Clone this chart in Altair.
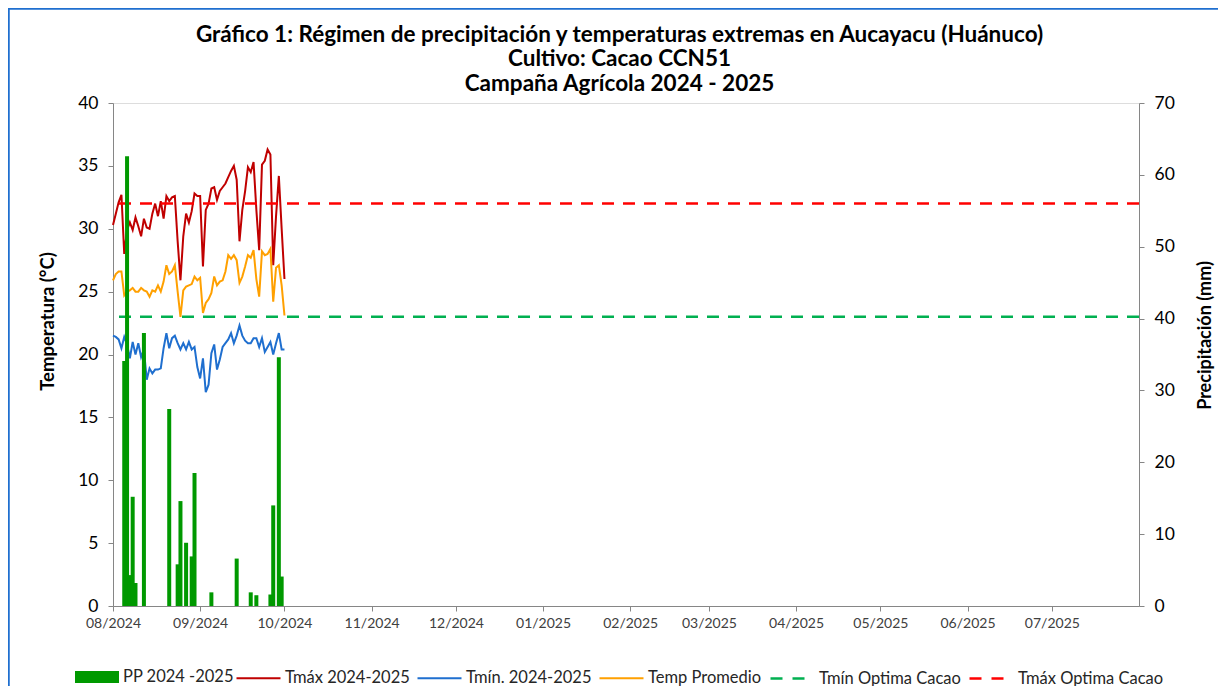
import altair as alt
import pandas as pd

# ---------------- data ----------------
start_date = "2024-08-01"
tmax = [30.3, 31.2, 32.1, 32.7, 28.0, 29.9, 30.5, 29.9, 30.9, 30.2,
        29.4, 30.8, 30.1, 30.0, 31.2, 32.0, 31.0, 32.2, 30.8, 32.6,
        32.2, 32.5, 32.6, 29.0, 25.9, 29.4, 31.2, 30.5, 31.4, 32.8,
        32.6, 32.6, 27.0, 31.5, 32.0, 33.2, 33.3, 32.3, 33.0, 33.3,
        33.6, 34.1, 34.6, 35.0, 33.9, 29.0, 31.5, 33.0, 34.9, 34.5,
        35.3, 31.5, 28.3, 35.1, 35.4, 36.3, 35.9, 27.1, 31.0, 34.2,
        30.0, 26.0]
tmin = [21.5, 21.4, 21.2, 20.5, 21.4, 20.8, 19.7, 21.0, 20.0, 20.9,
        19.8, 20.4, 18.0, 18.9, 18.5, 18.8, 18.8, 18.9, 20.5, 21.7,
        20.5, 21.3, 21.5, 20.9, 20.4, 20.9, 20.4, 21.0, 20.4, 20.6,
        19.0, 18.1, 19.7, 17.0, 17.6, 20.1, 20.8, 18.8, 19.6, 20.6,
        20.9, 21.2, 21.7, 20.9, 21.5, 22.3, 21.5, 21.1, 20.9, 20.9,
        21.3, 21.3, 20.6, 21.3, 20.2, 20.6, 21.0, 20.0, 20.9, 21.7,
        20.4, 20.4]
tavg = [25.9, 26.4, 26.6, 26.6, 24.7, 25.0, 25.1, 25.3, 25.0, 25.0,
        25.3, 25.1, 25.0, 24.6, 25.1, 25.0, 25.5, 25.0, 25.8, 27.1,
        26.4, 26.6, 27.1, 25.0, 23.0, 25.1, 25.4, 25.5, 25.6, 26.2,
        25.9, 26.1, 23.3, 24.1, 24.4, 24.9, 26.2, 25.5, 25.8, 25.9,
        26.6, 27.9, 27.6, 27.9, 27.5, 25.7, 26.2, 27.0, 27.9, 27.7,
        28.3, 26.0, 24.6, 28.2, 27.9, 28.0, 28.4, 24.2, 26.9, 27.1,
        25.5, 23.1]
pp_dates = ["2024-08-05", "2024-08-06", "2024-08-07", "2024-08-08", "2024-08-09",
            "2024-08-12", "2024-08-21", "2024-08-24", "2024-08-25", "2024-08-27",
            "2024-08-29", "2024-08-30", "2024-09-05", "2024-09-14", "2024-09-19",
            "2024-09-21", "2024-09-26", "2024-09-27", "2024-09-29", "2024-09-30"]
pp_values = [34.1, 62.6, 4.3, 15.2, 3.2,
             38.0, 27.4, 5.8, 14.6, 8.8,
             6.9, 18.5, 1.9, 6.6, 1.9,
             1.5, 1.6, 14.0, 34.6, 4.1]
tmin_optima = 23
tmax_optima = 32
pp_name = "PP 2024 -2025"
pp_color = "#009900"
serie_names = ["Tmáx 2024-2025", "Tmín. 2024-2025", "Temp Promedio",
               "Tmín Optima Cacao", "Tmáx Optima Cacao"]
serie_colors = ["#C00000", "#1F6FCF", "#FFA000", "#00B050", "#FF0000"]
month_ticks = [(2024, 8), (2024, 9), (2024, 10), (2024, 11), (2024, 12), (2025, 1),
               (2025, 2), (2025, 3), (2025, 4), (2025, 5), (2025, 6), (2025, 7)]
title_lines = ["Gráfico 1: Régimen de precipitación y temperaturas extremas en Aucayacu (Huánuco)",
               "Cultivo: Cacao CCN51",
               "Campaña Agrícola 2024 - 2025"]

dates = pd.date_range(start_date, periods=len(tmax)).strftime("%Y-%m-%d").tolist()
df = pd.DataFrame({"date": dates, "tmax": tmax, "tmin": tmin, "tavg": tavg})
df_pp = pd.DataFrame({"date": pp_dates, "pp": pp_values, "serie_pp": pp_name})
df_leg = pd.DataFrame({"date": ["2024-07-15"] * len(serie_names),
                       "v": [20] * len(serie_names), "serie": serie_names})
df_one = pd.DataFrame({"a": [0]})

FONT = "Lato"
W, H = 1026, 503

x_scale = alt.Scale(type="utc", padding=0, nice=False,
                    domain=[alt.DateTime(year=2024, month=8, date=1, utc=True),
                            alt.DateTime(year=2025, month=8, date=1, utc=True)])
x_axis = alt.Axis(values=[alt.DateTime(year=y, month=m, date=1, utc=True) for y, m in month_ticks],
                  labelExpr="utcFormat(datum.value, '%m/%Y')", labelFlush=False,
                  labelFont=FONT, labelFontSize=14, labelColor="#404040",
                  domainColor="#868686", tickColor="#868686", tickSize=5,
                  labelPadding=5, grid=False, title=None)
x_enc = alt.X("date:T", scale=x_scale, axis=x_axis, title=None)

y_temp = alt.Scale(domain=[0, 40], nice=False)
y_pp = alt.Scale(domain=[0, 70], nice=False)

frame = alt.Chart(df_one).mark_rect(fill="transparent", stroke="#1F6FCF", strokeWidth=2.5).encode(
    x=alt.value(-104.5), x2=alt.value(W + 200), y=alt.value(-94.5), y2=alt.value(H + 200))

title_text = alt.Chart(df_one).mark_text(
    text=title_lines, font=FONT, fontSize=22.5, fontWeight="bold", color="#000000",
    lineHeight=24.5, align="center", baseline="middle").encode(
    x=alt.value(W / 2 - 6.5), y=alt.value(-68.5))

line_tmax = alt.Chart(df).mark_line(color=serie_colors[0], strokeWidth=2).encode(
    x=x_enc,
    y=alt.Y("tmax:Q", scale=y_temp, title="Temperatura (°C)",
            axis=alt.Axis(values=list(range(0, 45, 5)), grid=False, labelFont=FONT,
                          labelFontSize=17.5, labelColor="#000000", labelPadding=10,
                          domainColor="#868686", tickColor="#868686", tickSize=5,
                          titleFont=FONT, titleFontSize=18.5, titleFontWeight="bold",
                          titleColor="#000000", titleAngle=270, titleBaseline="middle",
                          titleX=-66, titleY=218)))
line_tavg = alt.Chart(df).mark_line(color=serie_colors[2], strokeWidth=2).encode(
    x=x_enc, y=alt.Y("tavg:Q", scale=y_temp, axis=None))
line_tmin = alt.Chart(df).mark_line(color=serie_colors[1], strokeWidth=2).encode(
    x=x_enc, y=alt.Y("tmin:Q", scale=y_temp, axis=None))

rule_min = alt.Chart(df_one).mark_rule(color=serie_colors[3], strokeWidth=2.5,
                                       strokeDash=[12, 9]).encode(
    y=alt.Y(datum=tmin_optima, type="quantitative", scale=y_temp, axis=None))
rule_max = alt.Chart(df_one).mark_rule(color=serie_colors[4], strokeWidth=2.5,
                                       strokeDash=[12, 9]).encode(
    y=alt.Y(datum=tmax_optima, type="quantitative", scale=y_temp, axis=None))

legend_layer = alt.Chart(df_leg).mark_line(clip=True).encode(
    x=x_enc,
    y=alt.Y("v:Q", scale=y_temp, axis=None),
    color=alt.Color("serie:N", scale=alt.Scale(domain=serie_names, range=serie_colors),
                    legend=alt.Legend(orient="none", legendX=122, legendY=552,
                                      direction="horizontal", columns=5, title=None,
                                      symbolType="stroke", symbolSize=1936,
                                      labelFont=FONT, labelFontSize=16.5,
                                      labelColor="#262626", labelOffset=3,
                                      columnPadding=3, labelLimit=400, padding=0)),
    strokeDash=alt.StrokeDash("serie:N", scale=alt.Scale(
        type="ordinal", domain=serie_names,
        range=[[1, 0], [1, 0], [1, 0], [12, 10], [12, 10]])),
    strokeWidth=alt.StrokeWidth("serie:N", scale=alt.Scale(
        type="ordinal", domain=serie_names, range=[2, 2, 2, 2.5, 2.5])),
)

bars = alt.Chart(df_pp).mark_bar(size=4).encode(
    x=x_enc,
    y=alt.Y("pp:Q", scale=y_pp, title="Precipitación (mm)",
            axis=alt.Axis(orient="right", values=list(range(0, 80, 10)), grid=False,
                          labelFont=FONT, labelFontSize=17.5, labelColor="#000000",
                          labelPadding=10, domainColor="#868686", tickColor="#868686",
                          tickSize=5, titleFont=FONT, titleFontSize=18,
                          titleFontWeight="bold", titleColor="#000000", titleAngle=270,
                          titleBaseline="middle", titleX=66, titleY=232)),
    fill=alt.Fill("serie_pp:N", scale=alt.Scale(domain=[pp_name], range=[pp_color]),
                  legend=alt.Legend(orient="none", legendX=-38, legendY=552,
                                    title=None, symbolType="M-1,-0.27H1V0.27H-1Z",
                                    symbolSize=1936, symbolStrokeWidth=0,
                                    labelFont=FONT, labelFontSize=16.5,
                                    labelColor="#262626", labelOffset=4,
                                    labelLimit=400, padding=0)),
)

chart = alt.layer(frame, title_text, line_tmax, line_tavg, line_tmin, rule_min, rule_max,
                  legend_layer, bars).resolve_scale(y="independent").properties(
    width=W, height=H,
    autosize=alt.AutoSizeParams(type="none"),
    padding={"left": 105, "top": 95, "right": 79, "bottom": 80},
).configure_view(stroke="#bfbfbf", strokeWidth=1).configure(font=FONT)

chart.save("out.html", embed_options={"renderer": "svg", "actions": False})
